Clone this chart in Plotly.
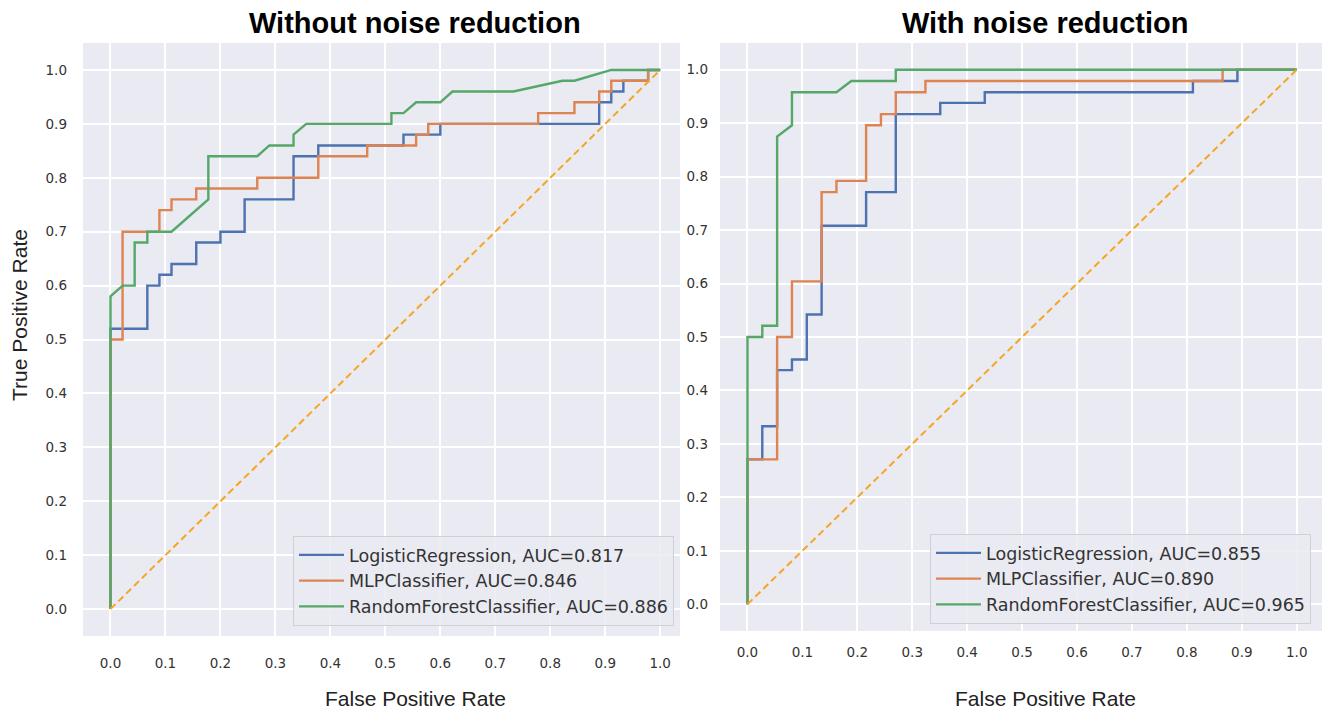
import plotly.graph_objects as go

W, H = 1326, 710

# ---------------- data: Without noise reduction ----------------
lr_fpr_wo = [0, 0, 0.067, 0.067, 0.089, 0.089, 0.111, 0.111, 0.156, 0.156, 0.2, 0.2, 0.244, 0.244,
             0.333, 0.333, 0.378, 0.378, 0.533, 0.533, 0.6, 0.6, 0.889, 0.889, 0.911, 0.911,
             0.933, 0.933, 0.978, 0.978, 1.0]
lr_tpr_wo = [0, 0.52, 0.52, 0.60, 0.60, 0.62, 0.62, 0.64, 0.64, 0.68, 0.68, 0.70, 0.70, 0.76,
             0.76, 0.84, 0.84, 0.86, 0.86, 0.88, 0.88, 0.90, 0.90, 0.94, 0.94, 0.96,
             0.96, 0.98, 0.98, 1.0, 1.0]

mlp_fpr_wo = [0, 0, 0.022, 0.022, 0.089, 0.089, 0.111, 0.111, 0.156, 0.156, 0.267, 0.267, 0.378, 0.378,
              0.467, 0.467, 0.556, 0.556, 0.578, 0.578, 0.778, 0.778, 0.844, 0.844, 0.889, 0.889,
              0.911, 0.911, 0.978, 0.978, 1.0]
mlp_tpr_wo = [0, 0.50, 0.50, 0.70, 0.70, 0.74, 0.74, 0.76, 0.76, 0.78, 0.78, 0.80, 0.80, 0.84,
              0.84, 0.86, 0.86, 0.88, 0.88, 0.90, 0.90, 0.92, 0.92, 0.94, 0.94, 0.96,
              0.96, 0.98, 0.98, 1.0, 1.0]

rf_fpr_wo = [0, 0, 0.022, 0.044, 0.044, 0.067, 0.067, 0.111, 0.178, 0.178, 0.267, 0.289, 0.333, 0.333,
             0.356, 0.511, 0.511, 0.533, 0.556, 0.6, 0.622, 0.733, 0.822, 0.844, 0.911, 1.0]
rf_tpr_wo = [0, 0.58, 0.60, 0.60, 0.68, 0.68, 0.70, 0.70, 0.76, 0.84, 0.84, 0.86, 0.86, 0.88,
             0.90, 0.90, 0.92, 0.92, 0.94, 0.94, 0.96, 0.96, 0.98, 0.98, 1.0, 1.0]

# ---------------- data: With noise reduction ----------------
lr_fpr_w = [0, 0, 0.027, 0.027, 0.054, 0.054, 0.081, 0.081, 0.108, 0.108, 0.135, 0.135, 0.216, 0.216,
            0.270, 0.270, 0.351, 0.351, 0.432, 0.432, 0.811, 0.811, 0.892, 0.892, 1.0]
lr_tpr_w = [0, 0.271, 0.271, 0.333, 0.333, 0.438, 0.438, 0.458, 0.458, 0.542, 0.542, 0.708, 0.708, 0.771,
            0.771, 0.917, 0.917, 0.938, 0.938, 0.958, 0.958, 0.979, 0.979, 1.0, 1.0]

mlp_fpr_w = [0, 0, 0.054, 0.054, 0.081, 0.081, 0.135, 0.135, 0.162, 0.162, 0.216, 0.216, 0.243, 0.243,
             0.270, 0.270, 0.324, 0.324, 0.865, 0.865, 1.0]
mlp_tpr_w = [0, 0.271, 0.271, 0.5, 0.5, 0.604, 0.604, 0.771, 0.771, 0.792, 0.792, 0.896, 0.896, 0.917,
             0.917, 0.958, 0.958, 0.979, 0.979, 1.0, 1.0]

rf_fpr_w = [0, 0, 0.027, 0.027, 0.054, 0.054, 0.081, 0.081, 0.162, 0.189, 0.270, 0.270, 1.0]
rf_tpr_w = [0, 0.5, 0.5, 0.521, 0.521, 0.875, 0.896, 0.958, 0.958, 0.979, 0.979, 1.0, 1.0]

chance = [0, 1]

names_wo = ["LogisticRegression, AUC=0.817", "MLPClassifier, AUC=0.846", "RandomForestClassifier, AUC=0.886"]
names_w = ["LogisticRegression, AUC=0.855", "MLPClassifier, AUC=0.890", "RandomForestClassifier, AUC=0.965"]
ticks = [0.0, 0.1, 0.2, 0.3, 0.4, 0.5, 0.6, 0.7, 0.8, 0.9, 1.0]
tick_text = ["0.0", "0.1", "0.2", "0.3", "0.4", "0.5", "0.6", "0.7", "0.8", "0.9", "1.0"]

colors = ["#4C72B0", "#DD8452", "#55A868"]
BG = "#EAEAF2"
TICKFONT = dict(family="DejaVu Sans", size=13.5, color="#333333")
LEGFONT = dict(family="DejaVu Sans", size=17.5, color="#333333")

fig = go.Figure()

series_wo = [(lr_fpr_wo, lr_tpr_wo), (mlp_fpr_wo, mlp_tpr_wo), (rf_fpr_wo, rf_tpr_wo)]
series_w = [(lr_fpr_w, lr_tpr_w), (mlp_fpr_w, mlp_tpr_w), (rf_fpr_w, rf_tpr_w)]

for (fx, ty), nm, c in zip(series_wo, names_wo, colors):
    fig.add_trace(go.Scatter(x=fx, y=ty, mode="lines", name=nm, line=dict(color=c, width=2.4),
                             xaxis="x", yaxis="y", legend="legend", hoverinfo="skip"))
fig.add_trace(go.Scatter(x=chance, y=chance, mode="lines", showlegend=False,
                         line=dict(color="#F5A623", width=2, dash="7px,4px"), xaxis="x", yaxis="y"))

for (fx, ty), nm, c in zip(series_w, names_w, colors):
    fig.add_trace(go.Scatter(x=fx, y=ty, mode="lines", name=nm, line=dict(color=c, width=2.4),
                             xaxis="x2", yaxis="y2", legend="legend2", hoverinfo="skip"))
fig.add_trace(go.Scatter(x=chance, y=chance, mode="lines", showlegend=False,
                         line=dict(color="#F5A623", width=2, dash="7px,4px"), xaxis="x2", yaxis="y2"))


def ax(domain, rng, anchor, standoff):
    return dict(domain=domain, range=rng, anchor=anchor, tickvals=ticks, ticktext=tick_text,
                showgrid=True, gridcolor="white", gridwidth=1.5, zeroline=False, showline=False,
                ticks="", tickfont=TICKFONT, ticklabelstandoff=standoff, fixedrange=True)


def ann(text, x, y, size, color, bold=False, angle=0):
    return dict(text=f"<b>{text}</b>" if bold else text, x=x / W, y=(H - y) / H,
                xref="paper", yref="paper", xanchor="center", yanchor="middle",
                showarrow=False, textangle=angle,
                font=dict(family="Liberation Sans", size=size, color=color))


fig.update_layout(
    width=W, height=H,
    margin=dict(l=0, r=0, t=0, b=0),
    paper_bgcolor="white",
    plot_bgcolor=BG,
    xaxis=ax([83 / W, 680 / W], [-0.05, 1.036], "y", 17),
    yaxis=ax([(H - 636) / H, (H - 43) / H], [-0.05, 1.05], "x", 15),
    xaxis2=ax([720 / W, 1322 / W], [-0.05, 1.046], "y2", 11),
    yaxis2=ax([(H - 631) / H, (H - 43) / H], [-0.05, 1.05], "x2", 11),
    legend=dict(x=293 / W, y=(H - 536) / H, xanchor="left", yanchor="top",
                bgcolor="rgba(234,234,242,0.85)", bordercolor="#CFCFD6", borderwidth=1,
                font=LEGFONT, tracegroupgap=0, itemwidth=45),
    legend2=dict(x=930 / W, y=(H - 534) / H, xanchor="left", yanchor="top",
                 bgcolor="rgba(234,234,242,0.85)", bordercolor="#CFCFD6", borderwidth=1,
                 font=LEGFONT, tracegroupgap=0, itemwidth=45),
    annotations=[
        ann("Without noise reduction", 415, 23, 29, "black", bold=True),
        ann("With noise reduction", 1045, 23, 29, "black", bold=True),
        ann("False Positive Rate", 415, 698, 21, "#222222"),
        ann("False Positive Rate", 1045, 698, 21, "#222222"),
        ann("True Positive Rate", 19, 315, 21, "#222222", angle=-90),
    ],
)

fig.write_html("out.html", config={"displayModeBar": False},
               post_script="document.body.style.margin='0';document.body.style.padding='0';")
